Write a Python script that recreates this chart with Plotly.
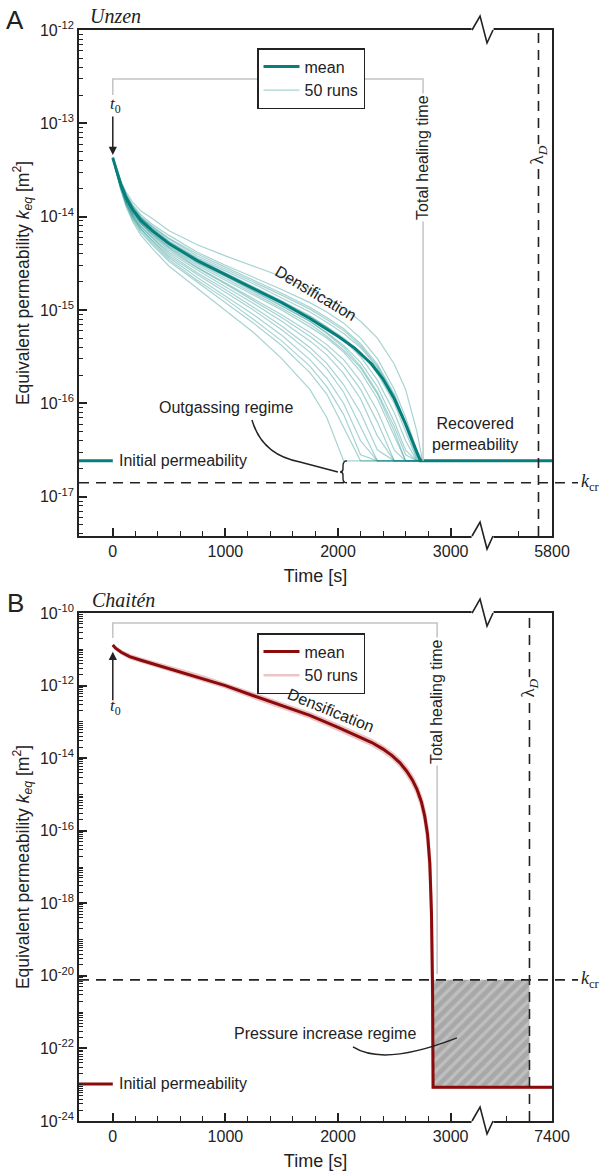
import plotly.graph_objects as go

# ---------------- data (log10 of permeability in m^2, time in s) ----------------
F_A = -16.615  # recovered / initial permeability, Unzen
T_RUNS_A = [0, 30, 70, 120, 180, 250, 350, 500, 750, 1000, 1250, 1500, 1750, 1900, 2050, 2200, 2350, 2500,
            2600, 2700, 2750]
RUNS_A_LOG = [
    [-13.37, -13.48, -13.61, -13.74, -13.85, -13.94, -14.02, -14.15, -14.3, -14.42, -14.53, -14.64, -14.78, -14.87, -14.98, -15.12, -15.3, -15.58, -15.85, -16.3, F_A],
    [-13.37, -13.49, -13.63, -13.76, -13.88, -13.98, -14.08, -14.2, -14.38, -14.52, -14.65, -14.78, -14.92, -15.02, -15.14, -15.3, -15.52, -15.85, -16.15, -16.5, F_A],
    [-13.37, -13.49, -13.64, -13.78, -13.9, -14.01, -14.11, -14.24, -14.42, -14.56, -14.7, -14.84, -14.99, -15.1, -15.22, -15.38, -15.6, -15.92, -16.22, -16.55, F_A],
    [-13.37, -13.5, -13.64, -13.79, -13.92, -14.02, -14.13, -14.27, -14.45, -14.6, -14.75, -14.9, -15.06, -15.18, -15.32, -15.5, -15.75, -16.1, -16.4, F_A, F_A],
    [-13.37, -13.5, -13.66, -13.81, -13.94, -14.06, -14.17, -14.32, -14.5, -14.66, -14.82, -14.98, -15.15, -15.28, -15.43, -15.62, -15.9, -16.3, F_A, F_A, F_A],
    [-13.37, -13.51, -13.67, -13.83, -13.97, -14.08, -14.2, -14.36, -14.55, -14.72, -14.9, -15.08, -15.28, -15.42, -15.6, -15.85, -16.2, F_A, F_A, F_A, F_A],
    [-13.37, -13.51, -13.67, -13.84, -13.99, -14.11, -14.23, -14.4, -14.6, -14.78, -14.97, -15.17, -15.4, -15.57, -15.8, -16.1, -16.5, F_A, F_A, F_A, F_A],
    [-13.37, -13.52, -13.68, -13.86, -14.01, -14.13, -14.26, -14.44, -14.65, -14.85, -15.05, -15.27, -15.53, -15.73, -16.0, -16.4, F_A, F_A, F_A, F_A, F_A],
    [-13.37, -13.52, -13.7, -13.88, -14.04, -14.17, -14.3, -14.48, -14.7, -14.92, -15.14, -15.38, -15.67, -15.9, -16.25, F_A, F_A, F_A, F_A, F_A, F_A],
    [-13.37, -13.53, -13.71, -13.9, -14.06, -14.2, -14.34, -14.53, -14.77, -15.0, -15.24, -15.52, -15.85, -16.15, F_A, F_A, F_A, F_A, F_A, F_A, F_A],
    [-13.37, -13.5, -13.66, -13.82, -13.95, -14.07, -14.18, -14.33, -14.52, -14.68, -14.84, -15.0, -15.18, -15.3, -15.45, -15.66, -15.95, -16.35, F_A, F_A, F_A],
    [-13.37, -13.5, -13.65, -13.8, -13.92, -14.03, -14.14, -14.28, -14.46, -14.61, -14.76, -14.91, -15.07, -15.18, -15.3, -15.45, -15.68, -16.0, -16.3, -16.6, F_A],
    [-13.37, -13.49, -13.64, -13.79, -13.91, -14.01, -14.12, -14.26, -14.44, -14.58, -14.72, -14.87, -15.02, -15.13, -15.25, -15.4, -15.62, -15.95, -16.25, -16.58, F_A],
    [-13.37, -13.51, -13.67, -13.84, -13.98, -14.1, -14.22, -14.38, -14.57, -14.75, -14.93, -15.12, -15.33, -15.48, -15.68, -15.95, -16.35, F_A, F_A, F_A, F_A],
    [-13.37, -13.52, -13.68, -13.85, -14.0, -14.13, -14.25, -14.42, -14.62, -14.81, -15.0, -15.21, -15.45, -15.63, -15.88, -16.25, F_A, F_A, F_A, F_A, F_A],
    [-13.37, -13.5, -13.65, -13.81, -13.94, -14.05, -14.16, -14.3, -14.49, -14.64, -14.8, -14.96, -15.12, -15.24, -15.38, -15.56, -15.82, -16.2, -16.5, F_A, F_A],
    [-13.37, -13.49, -13.63, -13.77, -13.89, -14.0, -14.1, -14.23, -14.4, -14.54, -14.68, -14.82, -14.97, -15.08, -15.2, -15.36, -15.58, -15.9, -16.2, -16.55, F_A],
    [-13.37, -13.52, -13.69, -13.87, -14.02, -14.15, -14.28, -14.46, -14.68, -14.88, -15.1, -15.33, -15.6, -15.82, -16.12, -16.55, F_A, F_A, F_A, F_A, F_A],
    [-13.37, -13.5, -13.65, -13.8, -13.92, -14.03, -14.14, -14.28, -14.47, -14.63, -14.79, -14.95, -15.12, -15.25, -15.4, -15.6, -15.88, -16.25, -16.55, F_A, F_A],
    [-13.37, -13.51, -13.66, -13.82, -13.96, -14.07, -14.19, -14.34, -14.54, -14.71, -14.88, -15.05, -15.24, -15.37, -15.53, -15.76, -16.08, -16.5, F_A, F_A, F_A],
]
T_MEAN_A = [0, 30, 70, 120, 180, 250, 350, 500, 750, 1000, 1250, 1500, 1750, 2000, 2150, 2300, 2400, 2500, 2600,
            2680, 2730, 3900]
MEAN_A_LOG = [-13.37, -13.5, -13.65, -13.8, -13.93, -14.04, -14.15, -14.29, -14.47, -14.62, -14.77, -14.92, -15.09,
              -15.28, -15.41, -15.58, -15.74, -15.95, -16.22, -16.47, F_A, F_A]
T_INIT = [-300, 0]
K_INIT_A_LOG = -16.615
K_CR_A_LOG = -16.85
T_HEAL_A = 2755
LAMBDA_A = 3780

T_B = [0, 25, 75, 150, 250, 400, 600, 800, 1000, 1250, 1500, 1750, 2000, 2200, 2300, 2400, 2480, 2550, 2610,
       2660, 2700, 2740, 2770, 2795, 2815, 2830, 2840, 2844, 3900]
MEAN_B_LOG = [-10.88, -10.97, -11.08, -11.2, -11.3, -11.44, -11.62, -11.8, -12.0, -12.28, -12.55, -12.82, -13.15,
              -13.42, -13.57, -13.75, -13.93, -14.13, -14.36, -14.6, -14.85, -15.2, -15.6, -16.1, -16.9, -18.3,
              -20.5, -23.07, -23.07]
RUN_B1_LOG = [-10.88, -10.95, -11.05, -11.16, -11.26, -11.4, -11.57, -11.75, -11.95, -12.22, -12.49, -12.76, -13.08,
              -13.35, -13.5, -13.68, -13.86, -14.05, -14.27, -14.5, -14.75, -15.08, -15.45, -15.92, -16.65, -17.9,
              -19.9, -23.07, -23.07]
RUN_B2_LOG = [-10.88, -10.99, -11.11, -11.24, -11.34, -11.48, -11.67, -11.85, -12.05, -12.34, -12.61, -12.88, -13.22,
              -13.49, -13.64, -13.82, -14.0, -14.21, -14.45, -14.7, -14.96, -15.32, -15.75, -16.3, -17.15, -18.7,
              -21.0, -23.07, -23.07]
K_INIT_B_LOG = -22.98
K_FLOOR_B_LOG = -23.07
K_CR_B_LOG = -20.11
T_HEAL_B = 2880
LAMBDA_B = 3700
T_DROP_B = 2844

X_RANGE = [-300, 3900]
X_TICKVALS = [0, 1000, 2000, 3000, 3900]
X_TICKTEXT_A = ["0", "1000", "2000", "3000", "5800"]
X_TICKTEXT_B = ["0", "1000", "2000", "3000", "7400"]
X_MINOR_A = [200, 400, 600, 800, 1200, 1400, 1600, 1800, 2200, 2400, 2600, 2800, 3600, 3780]
X_MINOR_B = [200, 400, 600, 800, 1200, 1400, 1600, 1800, 2200, 2400, 2600, 2800, 3500, 3700]
Y_DECADES_A = [-12, -13, -14, -15, -16, -17]
Y_DECADES_B = [-10, -12, -14, -16, -18, -20, -22, -24]

# ---------------- style / geometry ----------------
SANS = "Liberation Sans, Arial, sans-serif"
SERIF = "Liberation Serif, Times New Roman, serif"
TEAL = "#067f7c"
TEAL_LIGHT = "rgba(20,140,136,0.38)"
RED = "#8b0a0a"
RED_LIGHT = "rgba(190,60,70,0.30)"
INK = "#222222"
GREY = "#c4c4c4"

W, H = 600, 1176
ML, MR, MT, MB = 79, 48, 30, 55
PW, PH = W - ML - MR, H - MT - MB
DOM = {"A": (0.5362, 1.0), "B": (0.0, 0.4656)}
YR = {"A": (-17.42, -12.0), "B": (-24.0, -10.0)}


def xpap(t):
    return (t - X_RANGE[0]) / (X_RANGE[1] - X_RANGE[0])


def ypap(p, lg):
    d0, d1 = DOM[p]
    lo, hi = YR[p]
    return d0 + (lg - lo) / (hi - lo) * (d1 - d0)


def path(p, segs):
    parts = []
    for cmd, pts in segs:
        n = {"M": 1, "L": 1, "Q": 2, "C": 3}[cmd]
        for i in range(0, len(pts), n):
            parts.append(cmd + " " + " ".join(f"{xpap(t):.5f},{ypap(p, lg):.5f}" for t, lg in pts[i:i + n]))
    return " ".join(parts)


def pw(v):
    return [10 ** x for x in v]


fig = go.Figure()

# ---------------- panel A ----------------
for i, r in enumerate(RUNS_A_LOG):
    fig.add_trace(go.Scatter(x=T_RUNS_A, y=pw(r), mode="lines", line=dict(color=TEAL_LIGHT, width=1.2),
                             name="50 runs", legendgroup="runsA", showlegend=(i == 0), legendrank=2,
                             xaxis="x", yaxis="y", legend="legend", hoverinfo="skip"))
fig.add_trace(go.Scatter(x=T_INIT, y=pw([K_INIT_A_LOG, K_INIT_A_LOG]), mode="lines",
                         line=dict(color=TEAL, width=3), showlegend=False, xaxis="x", yaxis="y"))
fig.add_trace(go.Scatter(x=T_MEAN_A, y=pw(MEAN_A_LOG), mode="lines", line=dict(color=TEAL, width=3),
                         name="mean", legendrank=1, xaxis="x", yaxis="y", legend="legend"))

# ---------------- panel B ----------------
fig.add_trace(go.Scatter(x=[T_DROP_B, LAMBDA_B, LAMBDA_B, T_DROP_B, T_DROP_B],
                         y=pw([K_FLOOR_B_LOG, K_FLOOR_B_LOG, K_CR_B_LOG, K_CR_B_LOG, K_FLOOR_B_LOG]),
                         mode="lines", line=dict(width=0), fill="toself", fillcolor="#a8a8a8",
                         fillpattern=dict(shape="/", bgcolor="#a8a8a8", fgcolor="#d6d6d6", size=8, solidity=0.4),
                         showlegend=False, xaxis="x2", yaxis="y2", hoverinfo="skip"))
for i, r in enumerate([RUN_B1_LOG, RUN_B2_LOG]):
    fig.add_trace(go.Scatter(x=T_B, y=pw(r), mode="lines", line=dict(color=RED_LIGHT, width=2.5),
                             name="50 runs", legendgroup="runsB", showlegend=(i == 0), legendrank=2,
                             xaxis="x2", yaxis="y2", legend="legend2"))
fig.add_trace(go.Scatter(x=T_B, y=pw(MEAN_B_LOG), mode="lines", line=dict(color=RED, width=3),
                         name="mean", legendrank=1, xaxis="x2", yaxis="y2", legend="legend2"))
fig.add_trace(go.Scatter(x=T_INIT, y=pw([K_INIT_B_LOG, K_INIT_B_LOG]), mode="lines",
                         line=dict(color=RED, width=3), showlegend=False, xaxis="x2", yaxis="y2"))


# ---------------- axes ----------------
def xaxis(ticktext, minor, anchor):
    return dict(domain=[0, 1], anchor=anchor, range=X_RANGE, showline=True, linewidth=1.8, linecolor=INK,
                mirror=True, ticks="inside", ticklen=8, tickwidth=1.5, tickcolor=INK, automargin=False,
                tickmode="array", tickvals=X_TICKVALS, ticktext=ticktext,
                minor=dict(tickmode="array", tickvals=minor, ticks="inside", ticklen=5, tickwidth=1.2, tickcolor=INK,
                           showgrid=False),
                showgrid=False, zeroline=False, tickfont=dict(family=SANS, size=16, color=INK),
                title=dict(text="Time [s]", font=dict(family=SANS, size=18, color=INK), standoff=10))


def yaxis(p, decades, minor_decades, anchor):
    lo, hi = YR[p]
    minor_vals = []
    for d in minor_decades:
        for k in range(1, 10):
            v = k * 10.0 ** d
            if 10 ** lo <= v <= 10 ** hi and not (k == 1 and d in decades):
                minor_vals.append(v)
    return dict(domain=list(DOM[p]), anchor=anchor, type="log", range=[lo, hi], showline=True, linewidth=1.8,
                linecolor=INK, mirror=True, ticks="inside", ticklen=8, tickwidth=1.5, tickcolor=INK,
                automargin=False,
                tickmode="array", tickvals=[10.0 ** d for d in decades],
                ticktext=[f"10<sup>{d}</sup>" for d in decades],
                minor=dict(tickmode="array", tickvals=minor_vals, ticks="inside", ticklen=4, tickwidth=1.1,
                           tickcolor=INK, showgrid=False),
                showgrid=False, zeroline=False, tickfont=dict(family=SANS, size=16, color=INK),
                title=dict(text="Equivalent permeability <i>k<sub>eq</sub></i> [m<sup>2</sup>]",
                           font=dict(family=SANS, size=17.5, color=INK), standoff=6))


# ---------------- shapes ----------------
shapes = []
DASH = "10px,7px"


def add_line(x0, y0, x1, y1, color=INK, width=1.6, dash=DASH):
    shapes.append(dict(type="line", xref="paper", yref="paper", x0=x0, y0=y0, x1=x1, y1=y1,
                       line=dict(color=color, width=width, dash=dash), layer="above"))


# brackets for total healing time
shapes.append(dict(type="path", xref="paper", yref="paper", layer="above", line=dict(color=GREY, width=1.5),
                   path=path("A", [("M", [(0, -12.696)]), ("L", [(0, -12.525), (T_HEAL_A, -12.525), (T_HEAL_A, F_A)])])))
shapes.append(dict(type="path", xref="paper", yref="paper", layer="above", line=dict(color=GREY, width=1.5),
                   path=path("B", [("M", [(0, -10.689)]), ("L", [(0, -10.276), (T_HEAL_B, -10.276), (T_HEAL_B, -19.95)])])))

for p, kcr, lam in (("A", K_CR_A_LOG, LAMBDA_A), ("B", K_CR_B_LOG, LAMBDA_B)):
    add_line(0, ypap(p, kcr), 1 + 26 / PW, ypap(p, kcr))
    add_line(xpap(lam), DOM[p][0], xpap(lam), DOM[p][1])

# pointer curves and brace
shapes.append(dict(type="path", xref="paper", yref="paper", layer="above", line=dict(color=INK, width=1.5),
                   path=path("A", [("M", [(1236, -16.177)]), ("Q", [(1325, -16.552), (1662, -16.627)]),
                                   ("L", [(1999, -16.734)])])))
shapes.append(dict(type="path", xref="paper", yref="paper", layer="above", line=dict(color=INK, width=1.4),
                   path=path("A", [("M", [(2080, F_A)]), ("Q", [(2044, F_A), (2044, -16.67)]),
                                   ("L", [(2044, -16.70)]), ("Q", [(2044, -16.734), (2018, -16.734)]),
                                   ("Q", [(2044, -16.734), (2044, -16.766)]), ("L", [(2044, -16.80)]),
                                   ("Q", [(2044, K_CR_A_LOG), (2080, K_CR_A_LOG)])])))
shapes.append(dict(type="path", xref="paper", yref="paper", layer="above", line=dict(color=INK, width=1.5),
                   path=path("B", [("M", [(2133, -21.96)]), ("C", [(2284, -22.26), (2550, -22.32), (3056, -21.71)])])))

# axis breaks (zig-zag)
T_BREAK = 3190
for p in ("A", "B"):
    for edge in DOM[p]:
        x0 = xpap(T_BREAK)
        shapes.append(dict(type="line", xref="paper", yref="paper", x0=x0 - 0.5 / PW, x1=x0 + 21.5 / PW,
                           y0=edge, y1=edge, line=dict(color="white", width=4), layer="above"))
        pts = [(0, 0), (8, 14), (15, -13), (21, 0)]
        d = "M " + " L ".join(f"{x0 + dx / PW:.5f},{edge + dy / PH:.5f}" for dx, dy in pts)
        shapes.append(dict(type="path", xref="paper", yref="paper", path=d, layer="above",
                           line=dict(color=INK, width=1.6)))

# ---------------- annotations ----------------
ann = []


def text(x, y, s, xref="x", yref="y", size=16, family=SANS, angle=0, xanchor="center", yanchor="middle",
         bg=None, align="center"):
    a = dict(x=x, y=y, xref=xref, yref=yref, text=s, showarrow=False, textangle=angle,
             font=dict(family=family, size=size, color=INK), xanchor=xanchor, yanchor=yanchor, align=align)
    if bg:
        a.update(bgcolor=bg, borderpad=1)
    ann.append(a)


# panel letters and titles
text((15 - ML) / PW, (H - MB - 20) / PH, "A", "paper", "paper", size=26)
text((88 - ML) / PW, (H - MB - 16) / PH, "<i>Unzen</i>", "paper", "paper", size=20, family=SERIF, xanchor="left")
text((15 - ML) / PW, (H - MB - 603) / PH, "B", "paper", "paper", size=26)
text((90 - ML) / PW, (H - MB - 600) / PH, "<i>Chaitén</i>", "paper", "paper", size=20, family=SERIF, xanchor="left")

# panel A texts
text(20, -12.80, "<i>t</i><sub>0</sub>", size=17, family=SERIF)
ann.append(dict(x=0, y=-13.34, xref="x", yref="y", text="", showarrow=True, ax=0, ay=-40, arrowhead=2,
                arrowsize=1.1, arrowwidth=1.5, arrowcolor=INK))
text(1805, -14.82, "Densification", angle=31)
text(1006, -16.04, "Outgassing regime")
text(37, K_INIT_A_LOG, "Initial permeability", xanchor="left")
text(3216, -16.325, "Recovered<br>permeability")
text(T_HEAL_A, -13.37, "Total healing time", angle=-90, bg="white")
text(LAMBDA_A, -13.34, "λ<sub><i>D</i></sub>", size=19, family=SERIF, angle=-90, bg="white")
text(1 + 27 / PW, ypap("A", K_CR_A_LOG), "<i>k</i><sub>cr</sub>", "paper", "paper", size=18, family=SERIF,
     xanchor="left")

# panel B texts
text(20, -12.59, "<i>t</i><sub>0</sub>", xref="x2", yref="y2", size=17, family=SERIF)
ann.append(dict(x=0, y=-11.07, xref="x2", yref="y2", text="", showarrow=True, ax=0, ay=50, arrowhead=2,
                arrowsize=1.1, arrowwidth=1.5, arrowcolor=INK))
text(1938, -12.68, "Densification", xref="x2", yref="y2", angle=22)
text(T_HEAL_B, -12.45, "Total healing time", xref="x2", yref="y2", angle=-90, bg="white")
text(LAMBDA_B, -12.07, "λ<sub><i>D</i></sub>", xref="x2", yref="y2", size=19, family=SERIF, angle=-90, bg="white")
text(1 + 27 / PW, ypap("B", K_CR_B_LOG), "<i>k</i><sub>cr</sub>", "paper", "paper", size=18, family=SERIF,
     xanchor="left")
text(1885, -21.6, "Pressure increase regime", xref="x2", yref="y2")
text(37, K_INIT_B_LOG, "Initial permeability", xref="x2", yref="y2", xanchor="left")

legend_common = dict(xanchor="center", yanchor="top", bgcolor="white", bordercolor=INK, borderwidth=1.5,
                     font=dict(family=SANS, size=16, color=INK), itemwidth=36, tracegroupgap=0)

fig.update_layout(
    width=W, height=H, margin=dict(l=ML, r=MR, t=MT, b=MB, autoexpand=False), paper_bgcolor="white",
    plot_bgcolor="white", showlegend=True,
    xaxis=xaxis(X_TICKTEXT_A, X_MINOR_A, "y"),
    yaxis=yaxis("A", Y_DECADES_A, list(range(-18, -12)), "x"),
    xaxis2=xaxis(X_TICKTEXT_B, X_MINOR_B, "y2"),
    yaxis2=yaxis("B", Y_DECADES_B, list(range(-24, -10)), "x2"),
    legend=dict(x=(311 - ML) / PW, y=(H - MB - 48) / PH, **legend_common),
    legend2=dict(x=(311 - ML) / PW, y=(H - MB - 633) / PH, **legend_common),
    shapes=shapes, annotations=ann,
    font=dict(family=SANS, color=INK),
)

fig.write_html("out.html", config={"displayModeBar": False},
               post_script="document.body.style.margin='0';document.body.style.padding='0';")
